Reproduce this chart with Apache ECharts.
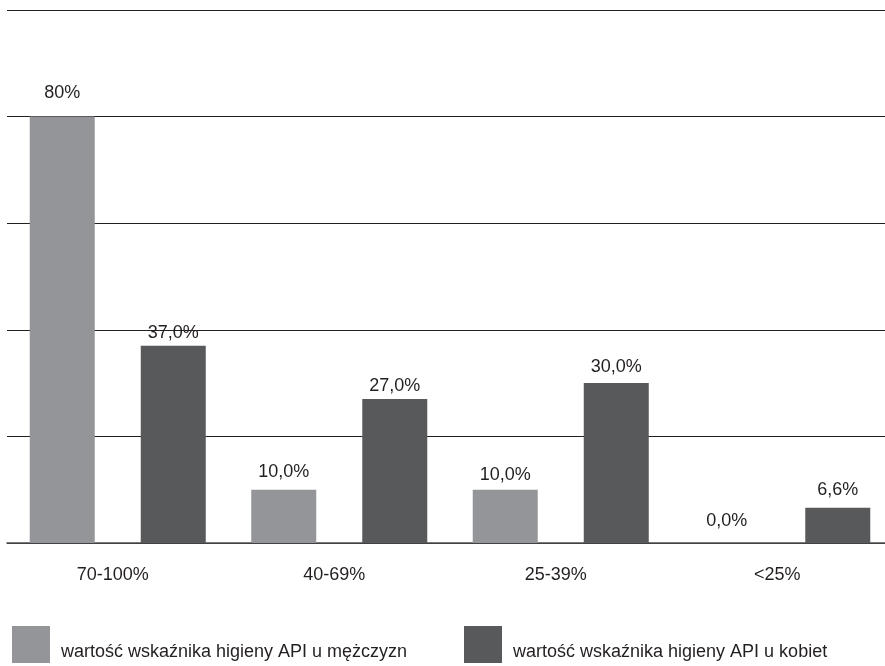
<!DOCTYPE html>
<html>
<head>
<meta charset="utf-8">
<script src="https://cdn.jsdelivr.net/npm/echarts@6/dist/echarts.min.js"></script>
<style>html,body{margin:0;padding:0;background:#fff;overflow:hidden}#c{width:893px;height:666px}</style>
</head>
<body>
<div id="c"></div>
<script>
const categories = ['70-100%', '40-69%', '25-39%', '<25%'];
const seriesNames = ['wartość wskaźnika higieny API u mężczyzn', 'wartość wskaźnika higieny API u kobiet'];
const menValues = [80, 10, 10, 0];
const womenValues = [37, 27, 30, 6.6];
const menLabels = ['80%', '10,0%', '10,0%', '0,0%'];
const womenLabels = ['37,0%', '27,0%', '30,0%', '6,6%'];

const FONT = "'Liberation Sans', Arial, sans-serif";
const FS = 18;
const TXT = '#231f20';
const menLabelDist = [15, 9, 6, 13];
const womenLabelDist = [4, 4, 7, 9];

function buildData(vals, labels, dists) {
  return vals.map((v, i) => ({
    value: v,
    label: { formatter: labels[i], distance: dists[i] }
  }));
}

function legendFor(name, left) {
  return {
    data: [name],
    left: left, top: 621,
    itemWidth: 38, itemHeight: 37,
    icon: 'rect',
    formatter: n => '{s|}{t|' + n + '}',
    textStyle: {
      color: TXT, fontFamily: FONT, fontSize: FS,
      rich: {
        s: { height: 34, width: 6 },
        t: { color: TXT, fontFamily: FONT, fontSize: FS, verticalAlign: 'bottom' }
      }
    }
  };
}

const chart = echarts.init(document.getElementById('c'), null, { renderer: 'canvas' });
chart.setOption({
  animation: false,
  grid: { left: 7, right: 0, top: 10, height: 533, containLabel: false },
  xAxis: {
    type: 'category',
    data: categories,
    axisLine: { show: true, lineStyle: { color: '#4d4d4f', width: 1.5 } },
    axisTick: { show: false },
    axisLabel: { color: TXT, fontFamily: FONT, fontSize: FS, margin: 23, padding: [0, 10, 0, 0] }
  },
  yAxis: {
    type: 'value',
    min: 0, max: 100, interval: 20,
    axisLine: { show: false },
    axisTick: { show: false },
    axisLabel: { show: false },
    splitLine: { lineStyle: { color: '#231f20', width: 1 } }
  },
  legend: [legendFor(seriesNames[0], 7), legendFor(seriesNames[1], 459)],
  series: [
    {
      name: seriesNames[0],
      type: 'bar',
      barWidth: 65,
      barGap: '70.8%',
      itemStyle: { color: '#939598' },
      label: { show: true, position: 'top', color: TXT, fontFamily: FONT, fontSize: FS },
      data: buildData(menValues, menLabels, menLabelDist)
    },
    {
      name: seriesNames[1],
      type: 'bar',
      barWidth: 65,
      itemStyle: { color: '#58595b' },
      label: { show: true, position: 'top', color: TXT, fontFamily: FONT, fontSize: FS },
      data: buildData(womenValues, womenLabels, womenLabelDist)
    }
  ]
});
</script>
</body>
</html>
